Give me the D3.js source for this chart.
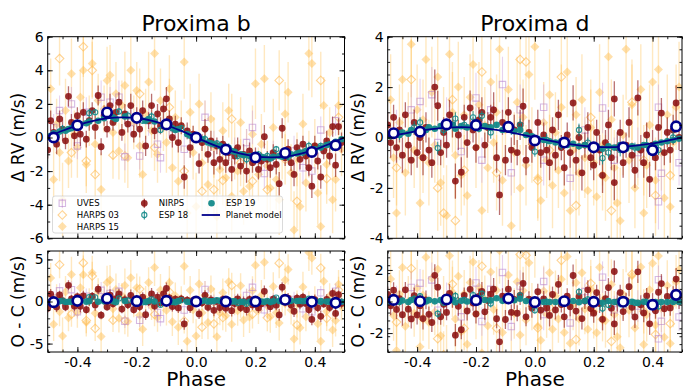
<!DOCTYPE html>
<html>
<head>
<meta charset="utf-8">
<script src="https://cdn.jsdelivr.net/npm/d3@7"></script>
<style>
  body { margin: 0; background: #fff; }
  text { font-family: "DejaVu Sans", sans-serif; }
</style>
</head>
<body>
<svg id="chart" width="683" height="388"></svg>
<script>
// tick values / labels
var phaseTicks = [-0.4, -0.2, 0.0, 0.2, 0.4];
var phaseTickLabels = ['-0.4', '-0.2', '0.0', '0.2', '0.4'];
var bRvTicks = [-6, -4, -2, 0, 2, 4, 6];
var bResTicks = [-5, 0, 5];
var dRvTicks = [-4, -2, 0, 2, 4];
var dResTicks = [-2, 0, 2];

// planet models (phase grid + RV)
var modelPhase = [-0.5, -0.45, -0.4, -0.35, -0.3, -0.25, -0.2, -0.15, -0.1, -0.05, 0,
                  0.05, 0.1, 0.15, 0.2, 0.25, 0.3, 0.35, 0.4, 0.45, 0.5];
var bModelRv = [0.05, 0.4, 0.72, 0.97, 1.14, 1.2, 1.16, 1.0, 0.74, 0.39, 0.0,
                -0.38, -0.71, -0.96, -1.12, -1.18, -1.14, -0.98, -0.72, -0.38, 0.0];
var dModelRv = [0.05, 0.14, 0.25, 0.33, 0.39, 0.41, 0.39, 0.33, 0.24, 0.12, 0.0,
                -0.12, -0.23, -0.31, -0.36, -0.38, -0.36, -0.31, -0.23, -0.12, 0.0];

// binned points
var bBinPhase = [-0.48, -0.40, -0.30, -0.20, -0.10, 0.0, 0.10, 0.20, 0.30, 0.39, 0.47];
var bBinRv = [0.0, 0.73, 1.49, 1.17, 0.78, 0.0, -0.72, -1.19, -0.92, -0.86, -0.46];
var bBinRes = [-0.08, 0.08, 0.36, 0.04, 0.08, 0.0, 0.0, 0.0, 0.2, -0.04, -0.16];
var dBinPhase = [-0.48, -0.39, -0.30, -0.20, -0.09, 0.0, 0.10, 0.20, 0.30, 0.40, 0.48];
var dBinRv = [0.17, 0.23, 0.52, 0.49, 0.42, -0.12, -0.2, -0.39, -0.39, -0.5, 0.44];
var dBinRes = [0.1, 0.02, 0.13, 0.08, 0.19, -0.04, 0.02, -0.02, -0.02, -0.21, 0.42];

// Proxima b data: [phase, rv, err]
var bHarps15 = [[-0.49,2.9,1.8],[-0.48,-2.5,2.0],[-0.47,0.8,1.5],[-0.46,-0.9,1.7],[-0.45,-3.7,2.2],[-0.44,1.6,1.9],[-0.43,-1.4,1.6],[-0.42,3.8,2.1],[-0.41,0.2,1.4],[-0.40,-0.6,1.8],[-0.39,2.4,1.6],[-0.38,4.0,2.3],[-0.37,-1.6,1.7],[-0.36,1.0,1.5],[-0.35,4.4,2.0],[-0.34,-0.4,1.9],[-0.33,2.2,1.6],[-0.32,-3.1,2.2],[-0.31,1.7,1.4],[-0.30,3.4,2.0],[-0.29,3.7,1.8],[-0.28,0.3,1.6],[-0.27,2.6,1.9],[-0.26,-0.8,1.7],[-0.25,1.9,1.5],[-0.24,3.1,2.0],[-0.23,-1.2,1.8],[-0.22,4.0,2.1],[-0.21,0.9,1.6],[-0.20,2.8,1.7],[-0.19,-0.5,1.9],[-0.18,-2.2,2.0],[-0.17,1.4,1.5],[-0.16,3.3,1.8],[-0.15,0.4,1.6],[-0.14,5.0,2.2],[-0.13,-1.0,1.7],[-0.12,2.2,1.9],[-0.11,0.6,1.4],[-0.10,-0.3,1.8],[-0.09,2.9,2.0],[-0.08,-1.8,1.7],[-0.07,1.2,1.6],[-0.06,-2.6,2.1],[-0.05,0.7,1.5],[-0.04,4.5,2.2],[-0.03,-4.5,2.3],[-0.02,1.5,1.7],[-0.01,-0.9,1.6],[0.0,-4.1,2.0],[0.01,2.0,1.8],[0.02,-1.5,1.5],[0.03,0.5,1.7],[0.04,-2.8,2.0],[0.05,1.1,1.6],[0.06,-0.6,1.8],[0.07,-4.7,2.2],[0.08,-1.9,1.5],[0.09,0.4,1.7],[0.10,-2.4,1.9],[0.11,1.6,1.6],[0.12,-3.5,2.1],[0.13,-0.8,1.7],[0.14,-2.0,1.8],[0.15,0.9,1.5],[0.16,-3.2,2.0],[0.17,-1.1,1.6],[0.18,-2.9,1.9],[0.19,0.2,1.7],[0.20,3.2,2.1],[0.21,-2.2,1.6],[0.22,-0.4,1.8],[0.23,3.5,2.0],[0.24,-1.7,1.5],[0.25,-3.0,1.9],[0.26,0.6,1.7],[0.27,-2.5,1.8],[0.28,-3.7,2.1],[0.29,-0.9,1.6],[0.30,1.4,1.9],[0.31,2.7,1.8],[0.32,-2.1,1.7],[0.33,-5.5,2.3],[0.34,-1.3,1.6],[0.35,-4.1,2.0],[0.36,0.8,1.8],[0.37,-2.7,1.7],[0.38,5.0,2.2],[0.39,4.4,2.0],[0.40,-0.5,1.6],[0.41,-3.3,1.9],[0.42,-5.3,2.2],[0.43,1.9,1.7],[0.44,-1.6,1.8],[0.45,0.3,1.5],[0.46,-3.7,2.0],[0.47,-2.5,1.9],[0.48,1.9,1.7],[0.49,-0.7,1.6]];
var bHarps03 = [[-0.46,4.7,1.6],[-0.42,-0.9,1.5],[-0.38,5.4,1.8],[-0.37,-1.4,1.5],[-0.35,4.0,1.7],[-0.34,-2.2,1.5],[-0.28,-1.05,1.4],[-0.24,-1.1,1.6],[-0.19,2.6,1.5],[-0.14,-0.6,1.4],[-0.09,1.8,1.7],[-0.04,-2.0,1.5],[0.02,-3.2,1.4],[0.06,-3.1,1.6],[0.09,-2.55,1.5],[0.12,1.1,1.5],[0.15,-1.5,1.4],[0.19,-2.6,1.7],[0.24,-3.1,1.6],[0.28,3.4,1.8],[0.30,-1.3,1.5],[0.34,-3.8,1.6],[0.38,-1.0,1.4],[0.42,3.4,1.7],[0.44,-2.45,1.5],[0.48,1.2,1.6]];
var bUves = [[-0.48,0.6,0.8],[-0.46,1.6,0.9],[-0.42,2.0,1.0],[-0.40,-0.5,0.8],[-0.37,1.5,0.9],[-0.32,2.4,1.0],[-0.29,2.1,0.9],[-0.26,2.4,1.0],[-0.24,-1.15,0.8],[-0.22,0.9,0.9],[-0.19,-1.1,0.8],[-0.16,1.0,0.9],[-0.13,-0.4,1.0],[-0.12,-1.2,0.9],[-0.08,0.2,0.8],[-0.04,-0.7,0.9],[0.03,1.2,1.0],[0.06,-0.4,0.8],[0.13,-0.9,0.9],[0.17,-0.3,0.8],[0.19,0.6,1.0],[0.23,-2.15,0.9],[0.26,-1.0,0.8],[0.33,-0.8,0.9],[0.36,-1.8,1.0],[0.39,-2.0,0.9],[0.42,0.45,0.8],[0.47,1.0,0.9]];
var bNirps = [[-0.50,-0.75,0.5],[-0.49,1.0,0.6],[-0.48,0.3,0.5],[-0.47,-0.4,0.6],[-0.46,1.1,0.5],[-0.45,0.5,0.7],[-0.44,-0.2,0.5],[-0.43,2.45,0.6],[-0.42,0.9,0.5],[-0.41,0.1,0.6],[-0.40,1.3,0.5],[-0.39,0.2,0.7],[-0.38,1.5,0.6],[-0.37,-0.1,0.5],[-0.36,1.0,0.6],[-0.35,1.6,0.5],[-0.34,0.6,0.7],[-0.33,2.5,0.6],[-0.32,-0.55,0.5],[-0.31,1.3,0.6],[-0.30,0.5,0.5],[-0.29,1.9,0.7],[-0.28,0.9,0.5],[-0.27,1.5,0.6],[-0.26,2.1,0.6],[-0.25,0.3,0.5],[-0.24,1.4,0.6],[-0.23,0.8,0.5],[-0.22,1.9,0.7],[-0.21,0.2,0.5],[-0.20,1.2,0.6],[-0.19,0.5,0.5],[-0.18,1.6,0.6],[-0.17,-0.5,0.6],[-0.16,1.0,0.5],[-0.15,1.9,0.7],[-0.14,0.4,0.5],[-0.13,1.4,0.6],[-0.12,0.7,0.5],[-0.11,1.7,0.6],[-0.10,2.3,0.7],[-0.09,1.1,0.5],[-0.08,0.0,0.6],[-0.07,0.8,0.5],[-0.06,-0.3,0.6],[-0.05,0.7,0.5],[-0.04,-2.35,0.7],[-0.03,0.4,0.5],[-0.02,-0.6,0.6],[-0.01,0.2,0.5],[0.01,-1.55,0.6],[0.02,-0.3,0.5],[0.03,0.5,0.6],[0.04,-1.0,0.5],[0.05,-0.2,0.6],[0.06,-1.5,0.7],[0.07,-0.5,0.5],[0.08,-1.3,0.6],[0.09,-0.4,0.5],[0.10,-1.5,0.6],[0.11,-0.9,0.5],[0.12,-1.9,0.7],[0.13,-1.1,0.5],[0.14,-0.6,0.6],[0.15,-1.7,0.5],[0.16,-1.0,0.6],[0.17,-2.0,0.7],[0.18,-0.8,0.5],[0.19,-1.5,0.6],[0.20,-1.1,0.5],[0.21,-1.9,0.6],[0.22,-1.4,0.5],[0.23,0.05,0.7],[0.24,-1.3,0.5],[0.25,-1.8,0.6],[0.26,-0.9,0.5],[0.27,-1.6,0.6],[0.28,-2.75,0.7],[0.29,0.55,0.6],[0.30,-1.2,0.5],[0.31,-0.7,0.6],[0.32,-1.5,0.5],[0.33,-2.2,0.7],[0.34,-0.6,0.5],[0.35,-1.3,0.6],[0.36,-0.4,0.5],[0.37,-1.1,0.6],[0.38,-1.8,0.5],[0.39,-2.9,0.7],[0.40,-0.5,0.6],[0.41,-1.4,0.5],[0.42,-2.35,0.7],[0.43,-0.8,0.5],[0.44,-0.2,0.6],[0.45,-1.1,0.5],[0.46,0.65,0.6],[0.47,-1.65,0.7],[0.48,0.65,0.5],[0.49,-0.3,0.6]];
var bEsp18 = [[-0.45,0.5,0.25],[-0.41,0.75,0.2],[-0.36,1.45,0.25],[-0.34,1.5,0.2],[-0.29,1.35,0.25],[-0.26,1.55,0.2],[-0.23,1.3,0.25],[-0.18,1.0,0.2],[-0.15,1.25,0.25],[-0.12,0.45,0.2],[-0.09,0.8,0.25],[-0.05,0.55,0.2],[0.03,-0.1,0.25],[0.07,-0.35,0.2],[0.11,-0.6,0.25],[0.14,-1.1,0.2],[0.17,-1.3,0.25],[0.21,-1.0,0.2],[0.24,-1.1,0.25],[0.27,-0.7,0.2],[0.31,-1.15,0.25],[0.36,-0.9,0.2],[0.38,-0.5,0.25],[0.42,-0.5,0.2],[0.46,-0.55,0.25]];
var bEsp19 = [[-0.49,0.1,0.12],[-0.48,0.25,0.12],[-0.47,0.1,0.12],[-0.46,0.35,0.12],[-0.44,0.4,0.12],[-0.43,0.5,0.12],[-0.42,0.55,0.12],[-0.40,0.75,0.12],[-0.39,0.8,0.12],[-0.37,0.85,0.12],[-0.36,0.95,0.12],[-0.33,1.0,0.12],[-0.31,1.15,0.12],[-0.28,1.2,0.12],[-0.27,1.1,0.12],[-0.24,1.25,0.12],[-0.21,1.15,0.12],[-0.20,1.05,0.12],[-0.17,1.0,0.12],[-0.16,1.1,0.12],[-0.14,0.95,0.12],[-0.11,0.8,0.12],[-0.10,0.7,0.12],[-0.08,0.55,0.12],[-0.07,0.45,0.12],[-0.06,0.5,0.12],[-0.03,0.2,0.12],[-0.02,0.1,0.12],[0.0,0.0,0.12],[0.01,-0.1,0.12],[0.02,-0.1,0.12],[0.04,-0.3,0.12],[0.05,-0.35,0.12],[0.06,-0.4,0.12],[0.08,-0.5,0.12],[0.09,-0.6,0.12],[0.10,-0.7,0.12],[0.12,-0.8,0.12],[0.13,-0.85,0.12],[0.15,-1.0,0.12],[0.16,-1.05,0.12],[0.18,-1.1,0.12],[0.19,-1.1,0.12],[0.20,-1.2,0.12],[0.22,-1.15,0.12],[0.23,-1.2,0.12],[0.25,-1.25,0.12],[0.26,-1.15,0.12],[0.28,-1.1,0.12],[0.29,-1.15,0.12],[0.31,-1.05,0.12],[0.32,-1.0,0.12],[0.34,-0.95,0.12],[0.35,-0.9,0.12],[0.37,-0.8,0.12],[0.39,-0.75,0.12],[0.40,-0.7,0.12],[0.42,-0.6,0.12],[0.44,-0.45,0.12],[0.45,-0.4,0.12],[0.47,-0.25,0.12],[0.49,-0.1,0.12]];

// Proxima d data: [phase, rv, err]
var dHarps15 = [[-0.49,1.5,1.8],[-0.48,-0.8,1.6],[-0.47,-3.0,2.0],[-0.46,0.6,1.5],[-0.45,2.3,1.9],[-0.44,-1.4,1.7],[-0.43,0.2,1.6],[-0.42,3.7,2.1],[-0.41,-0.5,1.5],[-0.40,1.1,1.8],[-0.39,-2.6,2.0],[-0.38,0.7,1.6],[-0.37,3.1,1.9],[-0.36,-1.0,1.7],[-0.35,1.8,1.8],[-0.34,-0.3,1.5],[-0.33,2.4,1.9],[-0.32,-1.8,1.7],[-0.31,0.4,1.6],[-0.30,-3.1,2.0],[-0.29,3.3,2.1],[-0.28,1.0,1.6],[-0.27,-0.7,1.7],[-0.26,2.0,1.8],[-0.25,-1.5,1.6],[-0.24,0.9,1.5],[-0.23,-2.3,1.9],[-0.22,1.6,1.7],[-0.21,2.9,2.0],[-0.20,-0.4,1.6],[-0.19,1.3,1.7],[-0.18,-2.9,2.0],[-0.17,0.5,1.5],[-0.16,-1.2,1.8],[-0.15,2.2,1.7],[-0.14,-0.2,1.6],[-0.13,1.0,1.5],[-0.12,3.5,2.1],[-0.11,-1.7,1.8],[-0.10,0.3,1.6],[-0.09,1.9,1.7],[-0.08,-3.5,2.1],[-0.07,-0.6,1.6],[-0.06,1.4,1.8],[-0.05,-2.0,1.7],[-0.04,0.8,1.5],[-0.03,-1.1,1.6],[-0.02,2.5,1.9],[-0.01,-0.3,1.5],[0.00,3.6,2.1],[0.01,-1.6,1.7],[0.02,-2.5,1.9],[0.03,0.6,1.6],[0.04,-0.9,1.5],[0.05,1.7,1.8],[0.06,-1.9,1.7],[0.07,0.2,1.6],[0.08,-1.3,1.5],[0.09,1.2,1.7],[0.10,-2.2,1.9],[0.11,2.6,1.8],[0.12,-2.9,2.0],[0.13,-0.5,1.6],[0.14,0.9,1.5],[0.15,-1.4,1.7],[0.16,1.5,1.8],[0.17,-0.8,1.6],[0.18,-2.1,1.9],[0.19,0.4,1.5],[0.20,-1.0,1.7],[0.21,-2.35,1.8],[0.22,1.8,1.9],[0.23,-0.3,1.6],[0.24,-1.6,1.7],[0.25,3.2,2.0],[0.26,0.7,1.6],[0.27,-1.2,1.5],[0.28,-2.6,1.9],[0.29,-3.3,2.1],[0.30,0.1,1.6],[0.31,3.5,2.0],[0.32,-0.9,1.7],[0.33,1.3,1.8],[0.34,-2.0,1.6],[0.35,-0.4,1.5],[0.36,1.9,1.8],[0.37,-3.0,2.0],[0.38,-1.1,1.7],[0.39,0.5,1.6],[0.40,2.2,1.9],[0.41,-1.7,1.7],[0.42,2.7,1.8],[0.43,-0.6,1.5],[0.44,-2.4,1.9],[0.45,0.9,1.6],[0.46,-2.75,2.0],[0.47,-0.2,1.5],[0.48,1.2,1.7],[0.49,2.0,1.8]];
var dHarps03 = [[-0.47,-1.2,1.5],[-0.42,2.3,1.6],[-0.38,-0.8,1.4],[-0.33,-2.0,1.7],[-0.31,-3.0,1.5],[-0.28,1.5,1.5],[-0.27,-3.3,1.8],[-0.24,-1.3,1.4],[-0.18,2.6,1.6],[-0.13,-1.4,1.5],[-0.05,3.1,1.7],[-0.03,3.0,1.6],[0.01,-1.7,1.5],[0.05,-0.5,1.4],[0.09,2.4,1.6],[0.14,-2.7,1.7],[0.19,0.8,1.5],[0.23,-1.5,1.4],[0.26,-2.9,1.6],[0.33,1.4,1.5],[0.37,-0.9,1.4],[0.41,-2.3,1.6],[0.46,-1.5,1.5]];
var dUves = [[-0.47,0.2,0.9],[-0.42,1.1,1.0],[-0.39,1.43,0.9],[-0.35,1.7,1.1],[-0.33,-0.2,0.9],[-0.30,0.6,1.0],[-0.25,-0.56,0.9],[-0.20,1.57,1.0],[-0.18,-0.9,0.9],[-0.15,1.1,1.0],[-0.11,2.1,1.1],[-0.08,-1.4,0.9],[-0.05,1.1,1.0],[0.03,1.2,0.9],[0.03,-0.9,1.0],[0.12,-1.62,1.1],[0.17,0.3,0.9],[0.23,1.17,1.0],[0.27,-0.9,0.9],[0.35,-0.6,1.0],[0.42,1.2,0.9],[0.43,-1.42,1.0],[0.42,-2.55,1.1],[0.49,-1.0,0.9]];
var dNirps = [[-0.50,0.5,0.5],[-0.49,-0.2,0.6],[-0.48,0.8,0.5],[-0.47,-0.4,0.6],[-0.46,0.3,0.5],[-0.45,-0.7,0.7],[-0.44,0.9,0.5],[-0.43,-0.3,0.6],[-0.42,-0.9,0.6],[-0.41,0.6,0.5],[-0.40,-0.6,0.6],[-0.39,0.0,0.5],[-0.38,-0.8,0.7],[-0.37,0.4,0.6],[-0.36,-0.5,0.5],[-0.35,-1.0,0.6],[-0.34,2.0,0.7],[-0.33,1.26,0.6],[-0.32,-0.6,0.5],[-0.31,0.2,0.6],[-0.30,-0.3,0.5],[-0.29,0.9,0.6],[-0.28,0.5,0.5],[-0.27,-1.73,0.7],[-0.26,0.1,0.6],[-0.25,-1.38,0.6],[-0.24,0.8,0.5],[-0.23,-0.2,0.6],[-0.22,1.17,0.7],[-0.21,0.3,0.5],[-0.20,-0.4,0.6],[-0.19,0.7,0.5],[-0.18,1.0,0.6],[-0.17,-0.3,0.5],[-0.16,0.4,0.6],[-0.15,0.8,0.5],[-0.14,1.1,0.7],[-0.13,-0.8,0.6],[-0.12,-2.28,0.8],[-0.11,0.6,0.5],[-0.10,-0.9,0.6],[-0.09,1.0,0.6],[-0.08,-0.5,0.5],[-0.07,0.3,0.6],[-0.06,-0.6,0.5],[-0.05,0.5,0.6],[-0.04,1.24,0.7],[-0.03,-0.9,0.6],[-0.02,0.2,0.5],[-0.01,-0.4,0.6],[0.01,0.6,0.5],[0.02,-0.6,0.6],[0.03,0.1,0.5],[0.04,-0.5,0.6],[0.05,-1.0,0.7],[0.06,0.3,0.5],[0.07,-0.7,0.6],[0.08,0.9,0.6],[0.09,-0.4,0.5],[0.10,-1.2,0.7],[0.11,0.1,0.5],[0.12,-0.6,0.6],[0.13,1.37,0.7],[0.14,-0.9,0.6],[0.15,0.0,0.5],[0.16,-1.4,0.7],[0.17,-0.3,0.5],[0.18,0.4,0.6],[0.19,-0.8,0.5],[0.20,-1.1,0.6],[0.21,0.2,0.5],[0.22,-0.5,0.6],[0.23,-1.5,0.7],[0.24,-0.2,0.5],[0.25,0.5,0.6],[0.26,-0.8,0.5],[0.27,1.53,0.7],[0.27,-1.79,0.7],[0.28,-0.4,0.6],[0.29,0.2,0.5],[0.30,-1.0,0.6],[0.31,-0.3,0.5],[0.32,0.6,0.6],[0.33,-0.7,0.5],[0.34,-1.3,0.7],[0.35,1.57,0.7],[0.36,-0.5,0.6],[0.37,-1.0,0.6],[0.38,0.1,0.5],[0.39,-1.66,0.7],[0.40,-0.3,0.6],[0.41,-0.8,0.5],[0.42,0.4,0.6],[0.43,0.97,0.6],[0.44,-0.6,0.5],[0.45,0.2,0.6],[0.46,-0.5,0.5],[0.47,0.3,0.6],[0.48,1.37,0.7],[0.49,0.0,0.5]];
var dEsp18 = [[-0.46,0.1,0.2],[-0.41,0.4,0.25],[-0.39,0.6,0.2],[-0.33,-0.42,0.25],[-0.31,0.3,0.2],[-0.27,0.75,0.25],[-0.24,0.5,0.2],[-0.21,0.8,0.25],[-0.18,0.86,0.2],[-0.15,0.2,0.25],[-0.08,0.3,0.2],[-0.05,0.5,0.25],[0.00,-0.56,0.2],[0.04,-0.1,0.25],[0.09,-0.3,0.2],[0.15,0.3,0.25],[0.18,-0.2,0.2],[0.23,-0.82,0.25],[0.25,-0.6,0.2],[0.29,-0.5,0.25],[0.34,-0.4,0.2],[0.38,-0.3,0.25],[0.42,-0.5,0.2],[0.47,0.0,0.25]];
var dEsp19 = [[-0.49,0.05,0.1],[-0.48,0.15,0.1],[-0.46,0.1,0.1],[-0.45,0.2,0.1],[-0.43,0.15,0.1],[-0.42,0.3,0.1],[-0.40,0.25,0.1],[-0.39,0.35,0.1],[-0.37,0.3,0.1],[-0.36,0.4,0.1],[-0.34,0.35,0.1],[-0.32,0.45,0.1],[-0.30,0.4,0.1],[-0.28,0.5,0.1],[-0.27,0.35,0.1],[-0.25,0.45,0.1],[-0.23,0.4,0.1],[-0.21,0.5,0.1],[-0.19,0.35,0.1],[-0.17,0.45,0.1],[-0.15,0.4,0.1],[-0.13,0.5,0.1],[-0.11,0.3,0.1],[-0.09,0.35,0.1],[-0.07,0.25,0.1],[-0.05,0.3,0.1],[-0.03,0.1,0.1],[-0.01,0.05,0.1],[0.01,-0.05,0.1],[0.03,-0.1,0.1],[0.05,-0.15,0.1],[0.07,-0.2,0.1],[0.09,-0.15,0.1],[0.11,-0.3,0.1],[0.13,-0.25,0.1],[0.15,-0.35,0.1],[0.17,-0.3,0.1],[0.19,-0.4,0.1],[0.21,-0.35,0.1],[0.23,-0.45,0.1],[0.25,-0.35,0.1],[0.27,-0.4,0.1],[0.29,-0.3,0.1],[0.31,-0.45,0.1],[0.33,-0.35,0.1],[0.35,-0.4,0.1],[0.37,-0.3,0.1],[0.39,-0.35,0.1],[0.41,-0.25,0.1],[0.43,-0.2,0.1],[0.45,-0.15,0.1],[0.47,-0.1,0.1],[0.49,-0.05,0.1]];

// instrument styles (drawing order)
var instruments = ['HARPS 15', 'HARPS 03', 'UVES', 'NIRPS', 'ESP 18', 'ESP 19'];
var styles = {
  'HARPS 15': {shape: 'diamond', size: 4.5, fill: '#ffc25a', fillOp: 0.5, stroke: 'none', err: '#ffb840', errOp: 0.33, errW: 1.4},
  'HARPS 03': {shape: 'diamond', size: 4.3, fill: 'none', fillOp: 0, stroke: '#ffbd5c', strokeOp: 0.65, err: '#ffb840', errOp: 0.33, errW: 1.4},
  'UVES':     {shape: 'square', size: 3.2, fill: 'none', fillOp: 0, stroke: '#b57fcc', strokeOp: 0.55, err: '#c79bdc', errOp: 0.45, errW: 1.1},
  'NIRPS':    {shape: 'circle', size: 3.4, fill: '#8c1212', fillOp: 0.88, stroke: 'none', err: '#8c1212', errOp: 0.6, errW: 1.3},
  'ESP 18':   {shape: 'circle', size: 2.6, fill: 'none', fillOp: 0, stroke: '#148a8a', strokeOp: 0.9, err: '#148a8a', errOp: 0.9, errW: 1},
  'ESP 19':   {shape: 'circle', size: 3.3, fill: '#148a8a', fillOp: 0.95, stroke: 'none', err: '#148a8a', errOp: 0.8, errW: 1}
};
var bData = {'HARPS 15': bHarps15, 'HARPS 03': bHarps03, 'UVES': bUves, 'NIRPS': bNirps, 'ESP 18': bEsp18, 'ESP 19': bEsp19};
var dData = {'HARPS 15': dHarps15, 'HARPS 03': dHarps03, 'UVES': dUves, 'NIRPS': dNirps, 'ESP 18': dEsp18, 'ESP 19': dEsp19};

var svg = d3.select('#chart');
var navy = '#00008b';
var clipCount = 0;

function markerPath(shape, s) {
  if (shape === 'diamond') return 'M0,' + (-s) + 'L' + s + ',0L0,' + s + 'L' + (-s) + ',0Z';
  if (shape === 'square') return 'M' + (-s) + ',' + (-s) + 'H' + s + 'V' + s + 'H' + (-s) + 'Z';
  return d3.symbol(d3.symbolCircle, Math.PI * s * s)();
}

function drawPanel(cfg) {
  var x = d3.scaleLinear().domain([-0.5, 0.5]).range([cfg.left, cfg.right]);
  var y = d3.scaleLinear().domain(cfg.yDomain).range([cfg.bottom, cfg.top]);
  var model = d3.scaleLinear().domain(modelPhase).range(cfg.modelRv);
  var val = function(d) { return cfg.residual ? d[1] - model(d[0]) : d[1]; };

  var id = 'clip' + (clipCount++);
  svg.append('clipPath').attr('id', id).append('rect')
    .attr('x', cfg.left).attr('y', cfg.top)
    .attr('width', cfg.right - cfg.left).attr('height', cfg.bottom - cfg.top);
  var plot = svg.append('g').attr('clip-path', 'url(#' + id + ')');

  instruments.forEach(function(name) {
    var st = styles[name];
    var data = cfg.data[name];
    var g = plot.append('g');
    g.selectAll('line').data(data).enter().append('line')
      .attr('x1', function(d) { return x(d[0]); })
      .attr('x2', function(d) { return x(d[0]); })
      .attr('y1', function(d) { return y(val(d) - d[2]); })
      .attr('y2', function(d) { return y(val(d) + d[2]); })
      .attr('stroke', st.err).attr('stroke-opacity', st.errOp).attr('stroke-width', st.errW);
    g.selectAll('path').data(data).enter().append('path')
      .attr('d', markerPath(st.shape, st.size))
      .attr('transform', function(d) { return 'translate(' + x(d[0]) + ',' + y(val(d)) + ')'; })
      .attr('fill', st.fill).attr('fill-opacity', st.fillOp)
      .attr('stroke', st.stroke).attr('stroke-opacity', st.strokeOp || 0)
      .attr('stroke-width', 1.1);
  });

  if (!cfg.residual) {
    plot.append('path')
      .datum(modelPhase)
      .attr('d', d3.line()
        .x(function(p) { return x(p); })
        .y(function(p, i) { return y(cfg.modelRv[i]); })
        .curve(d3.curveCatmullRom))
      .attr('fill', 'none').attr('stroke', navy).attr('stroke-width', 1.8);
  }

  plot.append('g').selectAll('circle').data(cfg.binPhase).enter().append('circle')
    .attr('cx', function(p) { return x(p); })
    .attr('cy', function(p, i) { return y(cfg.binVal[i]); })
    .attr('r', 4.7)
    .attr('fill', '#fff').attr('stroke', navy).attr('stroke-width', 2.7);

  // axes: inward ticks on all four sides
  var minorX = d3.range(-0.5, 0.5001, 0.05);
  var minorY = d3.range(cfg.yDomain[0], cfg.yDomain[1] + 1e-6, cfg.minorStep);
  function styleAxis(g) {
    g.select('.domain').remove();
    g.selectAll('line').attr('stroke', '#000').attr('stroke-width', 0.9);
    g.selectAll('text').attr('font-family', '"DejaVu Sans", sans-serif').attr('font-size', 14).attr('fill', '#000');
  }
  var bottomAxis = d3.axisBottom(x).tickValues(phaseTicks).tickSize(-5).tickPadding(5)
    .tickFormat(function(v, i) { return cfg.showX ? phaseTickLabels[i] : ''; });
  svg.append('g').attr('transform', 'translate(0,' + cfg.bottom + ')').call(bottomAxis).call(styleAxis);
  svg.append('g').attr('transform', 'translate(0,' + cfg.bottom + ')')
    .call(d3.axisBottom(x).tickValues(minorX).tickSize(-2.5).tickFormat('')).call(styleAxis);
  svg.append('g').attr('transform', 'translate(0,' + cfg.top + ')')
    .call(d3.axisTop(x).tickValues(phaseTicks).tickSize(-5).tickFormat('')).call(styleAxis);
  svg.append('g').attr('transform', 'translate(0,' + cfg.top + ')')
    .call(d3.axisTop(x).tickValues(minorX).tickSize(-2.5).tickFormat('')).call(styleAxis);

  svg.append('g').attr('transform', 'translate(' + cfg.left + ',0)')
    .call(d3.axisLeft(y).tickValues(cfg.yTicks).tickSize(-5).tickPadding(4)
      .tickFormat(function(v) { return String(v); })).call(styleAxis);
  svg.append('g').attr('transform', 'translate(' + cfg.left + ',0)')
    .call(d3.axisLeft(y).tickValues(minorY).tickSize(-2.5).tickFormat('')).call(styleAxis);
  svg.append('g').attr('transform', 'translate(' + cfg.right + ',0)')
    .call(d3.axisRight(y).tickValues(cfg.yTicks).tickSize(-5).tickFormat('')).call(styleAxis);
  svg.append('g').attr('transform', 'translate(' + cfg.right + ',0)')
    .call(d3.axisRight(y).tickValues(minorY).tickSize(-2.5).tickFormat('')).call(styleAxis);

  svg.append('rect')
    .attr('x', cfg.left).attr('y', cfg.top)
    .attr('width', cfg.right - cfg.left).attr('height', cfg.bottom - cfg.top)
    .attr('fill', 'none').attr('stroke', '#000').attr('stroke-width', 1);

  svg.append('text')
    .attr('transform', 'translate(' + (cfg.left - 24) + ',' + ((cfg.top + cfg.bottom) / 2) + ') rotate(-90)')
    .attr('text-anchor', 'middle').attr('font-size', 17).text(cfg.yLabel);
}

var leftX = [47.7, 344.5], rightX = [387.7, 682];
var topY = [36.7, 238.3], botY = [251, 352];

drawPanel({left: leftX[0], right: leftX[1], top: topY[0], bottom: topY[1], yDomain: [-6, 6], yTicks: bRvTicks, minorStep: 1,
  data: bData, modelRv: bModelRv, binPhase: bBinPhase, binVal: bBinRv, residual: false, showX: false, yLabel: 'Δ RV (m/s)'});
drawPanel({left: leftX[0], right: leftX[1], top: botY[0], bottom: botY[1], yDomain: [-6, 6], yTicks: bResTicks, minorStep: 1,
  data: bData, modelRv: bModelRv, binPhase: bBinPhase, binVal: bBinRes, residual: true, showX: true, yLabel: 'O - C (m/s)'});
drawPanel({left: rightX[0], right: rightX[1], top: topY[0], bottom: topY[1], yDomain: [-4, 4], yTicks: dRvTicks, minorStep: 0.5,
  data: dData, modelRv: dModelRv, binPhase: dBinPhase, binVal: dBinRv, residual: false, showX: false, yLabel: 'Δ RV (m/s)'});
drawPanel({left: rightX[0], right: rightX[1], top: botY[0], bottom: botY[1], yDomain: [-3.2, 3.2], yTicks: dResTicks, minorStep: 0.5,
  data: dData, modelRv: dModelRv, binPhase: dBinPhase, binVal: dBinRes, residual: true, showX: true, yLabel: 'O - C (m/s)'});

// titles and x labels
[['Proxima b', leftX], ['Proxima d', rightX]].forEach(function(t) {
  var cx = (t[1][0] + t[1][1]) / 2;
  svg.append('text').attr('x', cx).attr('y', 31).attr('text-anchor', 'middle')
    .attr('font-size', 22).text(t[0]);
  svg.append('text').attr('x', cx).attr('y', 386).attr('text-anchor', 'middle')
    .attr('font-size', 20).text('Phase');
});

// legend (left top panel)
var legend = svg.append('g');
legend.append('rect').attr('x', 52.5).attr('y', 196).attr('width', 230).attr('height', 37)
  .attr('rx', 2.5).attr('fill', '#fff').attr('fill-opacity', 0.8)
  .attr('stroke', '#d0d0d0').attr('stroke-width', 0.8);
var legendItems = [
  ['UVES', 62.3, 203.3], ['HARPS 03', 62.3, 215], ['HARPS 15', 62.3, 226.5],
  ['NIRPS', 144.3, 203.3], ['ESP 18', 144.3, 215], ['ESP 19', 211.5, 203.3]
];
legendItems.forEach(function(it) {
  var st = styles[it[0]];
  var g = legend.append('g').attr('transform', 'translate(' + it[1] + ',' + it[2] + ')');
  if (it[0] !== 'HARPS 03' && it[0] !== 'HARPS 15' && it[0] !== 'ESP 19') {
    g.append('line').attr('y1', -4.5).attr('y2', 4.5)
      .attr('stroke', st.err).attr('stroke-opacity', Math.min(1, st.errOp + 0.2)).attr('stroke-width', st.errW);
  }
  g.append('path').attr('d', markerPath(st.shape, st.size))
    .attr('fill', st.fill).attr('fill-opacity', st.fillOp)
    .attr('stroke', st.stroke).attr('stroke-opacity', st.strokeOp || 0).attr('stroke-width', 1.1);
  legend.append('text').attr('x', it[1] + 14.5).attr('y', it[2] + 3)
    .attr('font-size', 8.5).text(it[0]);
});
legend.append('line').attr('x1', 201.7).attr('x2', 220).attr('y1', 215).attr('y2', 215)
  .attr('stroke', navy).attr('stroke-width', 1.8);
legend.append('text').attr('x', 225.7).attr('y', 218).attr('font-size', 8.5).text('Planet model');
</script>
</body>
</html>
